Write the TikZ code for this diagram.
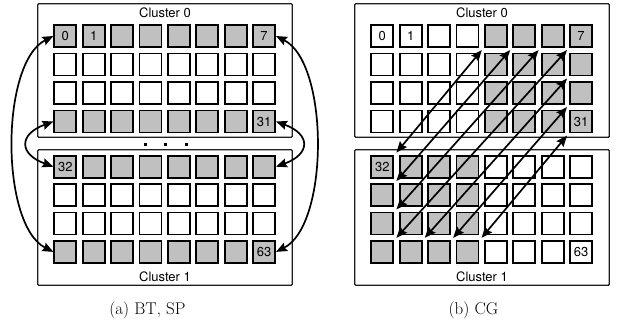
\documentclass[tikz,border=0pt]{standalone}
\usepackage{fontspec}
\newfontfamily\labelfont{TeX Gyre Heros}
\usepackage{tikz}
\usetikzlibrary{arrows.meta, positioning, calc}
\definecolor{cellgray}{RGB}{192,192,192}
\definecolor{boxblack}{RGB}{30,30,30}
\tikzset{
  cell/.style={rectangle, draw=black, line width=1.8pt, fill=white,
    minimum size=22pt, inner sep=0pt},
  cbox/.style={rectangle, draw=boxblack, line width=1.4pt, rounded corners=1pt,
    minimum width=254.5pt, inner sep=0pt},
  ctitle/.style={font=\labelfont\fontsize{13}{15}\selectfont, inner sep=0pt},
  num/.style={font=\labelfont\fontsize{13}{15}\selectfont, inner sep=0pt},
  link/.style={<->, >={Stealth[length=11pt,width=9pt,inset=1.5pt]}, line width=1.7pt},
  subcap/.style={font=\fontsize{17}{20}\selectfont, inner sep=0pt, anchor=base}
}

\begin{document}
\begin{tikzpicture}[x=1pt, y=1pt]
  \useasboundingbox (0,0) rectangle (618,-324);
  % cluster boxes
  \node[cbox, minimum height=133.5pt] (a0) at (165,-70.5) {};
  \node[cbox, minimum height=135.5pt] (a1) at (165,-217.5) {};
  \node[cbox, minimum height=133.5pt] (b0) at (482,-70.5) {};
  \node[cbox, minimum height=135.5pt] (b1) at (482,-217.5) {};
  \node[ctitle] (a0-title) at (165,-13) {Cluster 0};
  \node[ctitle] (a1-title) at (165,-277) {Cluster 1};
  \node[ctitle] (b0-title) at (482,-13) {Cluster 0};
  \node[ctitle] (b1-title) at (482,-277) {Cluster 1};
  % (a) cores
  \foreach \r/\f in {0/cellgray,1/white,2/white,3/cellgray} {
    \foreach \c in {0,...,7} {
      \node[cell, fill=\f] (a0-\r-\c) at ({65.3+28.4*\c},{-36-28.5*\r}) {};
      \node[cell, fill=\f] (a1-\r-\c) at ({65.3+28.4*\c},{-166.7-28.4*\r}) {};
    }
  }
  % (b) cores
  \foreach \c/\fu/\fl in {0/white/cellgray,1/white/cellgray,2/white/cellgray,3/white/cellgray,
      4/cellgray/white,5/cellgray/white,6/cellgray/white,7/cellgray/white} {
    \foreach \r in {0,...,3} {
      \node[cell, fill=\fu] (b0-\r-\c) at ({382.3+28.4*\c},{-36-28.5*\r}) {};
      \node[cell, fill=\fl] (b1-\r-\c) at ({382.3+28.4*\c},{-166.7-28.4*\r}) {};
    }
  }
  \foreach \p in {a,b} {
    \node[num] (\p-n0) at (\p0-0-0) {0};
    \node[num] (\p-n1) at (\p0-0-1) {1};
    \node[num] (\p-n7) at (\p0-0-7) {7};
    \node[num] (\p-n31) at (\p0-3-7) {31};
    \node[num] (\p-n32) at (\p1-0-0) {32};
    \node[num] (\p-n63) at (\p1-3-7) {63};
  }
  \foreach \x in {145,165,186} \fill (\x-1.5,-145.5) rectangle (\x+1.5,-142.5);
  % (a) swaps
  \draw[link] (a0-0-0.west) to[out=207, in=153, looseness=0.71] (a1-3-0.west);
  \draw[link] (a0-3-0.west) to[out=200, in=160, looseness=2.1] (a1-0-0.west);
  \draw[link] (a0-0-7.east) to[out=-27, in=27, looseness=0.71] (a1-3-7.east);
  \draw[link] (a0-3-7.east) to[out=-20, in=20, looseness=2.1] (a1-0-7.east);
  % (b) swaps
  \foreach \tr/\tc/\br/\bc in {0/4/0/0, 0/5/1/0, 0/6/2/0, 0/7/3/0, 1/7/3/1, 2/7/3/2, 3/7/3/3}
    \draw[link] ([shift={(-2.2,-2.2)}]b0-\tr-\tc.south west) -- ([shift={(2.2,2.2)}]b1-\br-\bc.north east);
  \node[subcap] (capa) at (147.5,-314.5) {(a) BT, SP};
  \node[subcap] (capb) at (473.5,-314.5) {(b) CG};
\end{tikzpicture}
\end{document}
